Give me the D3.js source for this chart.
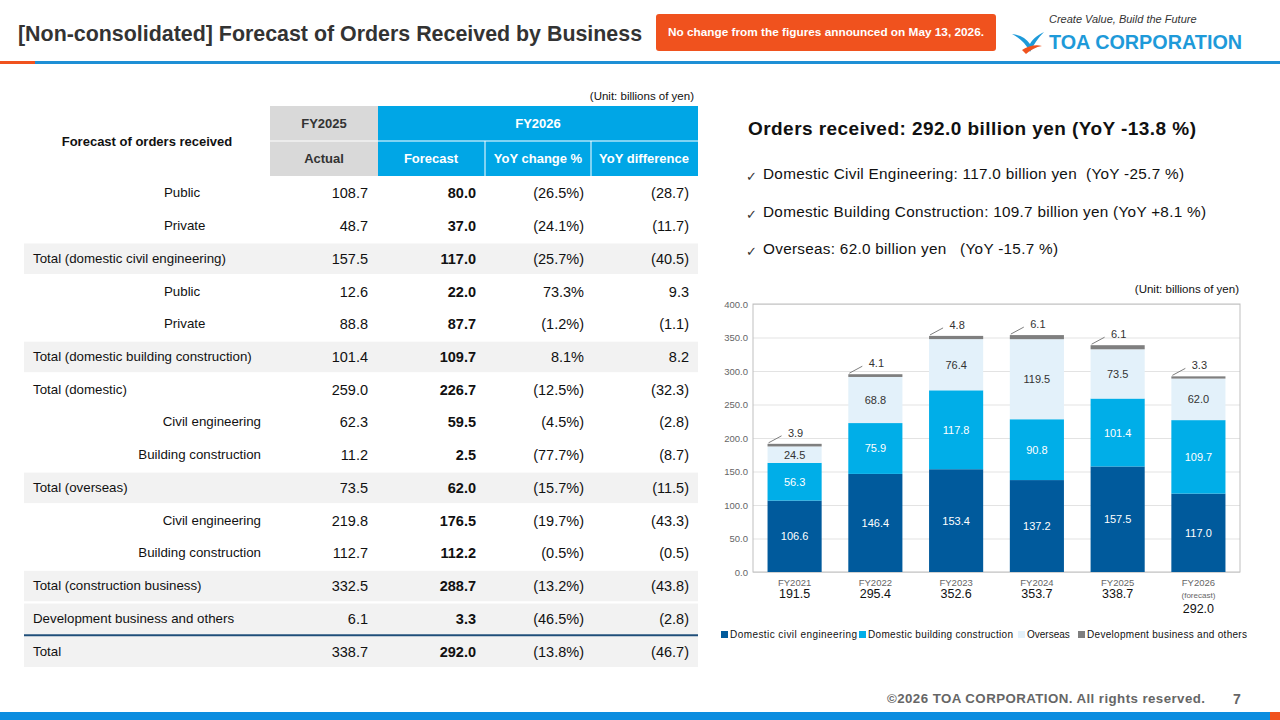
<!DOCTYPE html>
<html><head><meta charset="utf-8">
<script src="https://cdn.jsdelivr.net/npm/d3@7"></script>
<style>body{margin:0;background:#fff;font-family:Arial,"Liberation Sans",sans-serif;}</style>
</head><body><div id="slide"></div>
<script>
// Table rows: label, FY2025 actual, FY2026 forecast, YoY %, YoY diff, style
var rows = [
  {label:"Public", a:"108.7", f:"80.0", p:"(26.5%)", d:"(28.7)", type:"subL"},
  {label:"Private", a:"48.7", f:"37.0", p:"(24.1%)", d:"(11.7)", type:"subL"},
  {label:"Total (domestic civil engineering)", a:"157.5", f:"117.0", p:"(25.7%)", d:"(40.5)", type:"total"},
  {label:"Public", a:"12.6", f:"22.0", p:"73.3%", d:"9.3", type:"subL"},
  {label:"Private", a:"88.8", f:"87.7", p:"(1.2%)", d:"(1.1)", type:"subL"},
  {label:"Total (domestic building construction)", a:"101.4", f:"109.7", p:"8.1%", d:"8.2", type:"total"},
  {label:"Total (domestic)", a:"259.0", f:"226.7", p:"(12.5%)", d:"(32.3)", type:"plain"},
  {label:"Civil engineering", a:"62.3", f:"59.5", p:"(4.5%)", d:"(2.8)", type:"subR"},
  {label:"Building construction", a:"11.2", f:"2.5", p:"(77.7%)", d:"(8.7)", type:"subR"},
  {label:"Total (overseas)", a:"73.5", f:"62.0", p:"(15.7%)", d:"(11.5)", type:"total"},
  {label:"Civil engineering", a:"219.8", f:"176.5", p:"(19.7%)", d:"(43.3)", type:"subR"},
  {label:"Building construction", a:"112.7", f:"112.2", p:"(0.5%)", d:"(0.5)", type:"subR"},
  {label:"Total (construction business)", a:"332.5", f:"288.7", p:"(13.2%)", d:"(43.8)", type:"total"},
  {label:"Development business and others", a:"6.1", f:"3.3", p:"(46.5%)", d:"(2.8)", type:"total"},
  {label:"Total", a:"338.7", f:"292.0", p:"(13.8%)", d:"(46.7)", type:"total"}
];

// Chart data
var chartData = [
  {year:"FY2021", civil:106.6, building:56.3, overseas:24.5, dev:3.9, total:"191.5"},
  {year:"FY2022", civil:146.4, building:75.9, overseas:68.8, dev:4.1, total:"295.4"},
  {year:"FY2023", civil:153.4, building:117.8, overseas:76.4, dev:4.8, total:"352.6"},
  {year:"FY2024", civil:137.2, building:90.8, overseas:119.5, dev:6.1, total:"353.7"},
  {year:"FY2025", civil:157.5, building:101.4, overseas:73.5, dev:6.1, total:"338.7"},
  {year:"FY2026", civil:117.0, building:109.7, overseas:62.0, dev:3.3, total:"292.0"}
];
var keys = ["civil", "building", "overseas", "dev"];
var colors = {civil:"#005a9c", building:"#00aee8", overseas:"#e3f1fa", dev:"#7f7f7f"};
var textColors = {civil:"#fff", building:"#fff", overseas:"#333"};

var svg = d3.select("#slide").append("svg")
    .attr("width", 1280).attr("height", 720);

// Header
svg.append("text").attr("x", 18).attr("y", 41)
    .attr("font-size", "21.4px").attr("font-weight", "bold").attr("fill", "#333")
    .text("[Non-consolidated] Forecast of Orders Received by Business");
svg.append("rect").attr("x", 656).attr("y", 14).attr("width", 340).attr("height", 37)
    .attr("rx", 3).attr("fill", "#f0521e");
svg.append("text").attr("x", 826).attr("y", 36).attr("text-anchor", "middle")
    .attr("font-size", "11.8px").attr("font-weight", "bold").attr("fill", "#fff")
    .text("No change from the figures announced on May 13, 2026.");
svg.append("text").attr("x", 1049).attr("y", 23)
    .attr("font-size", "11px").attr("font-style", "italic").attr("fill", "#333")
    .text("Create Value, Build the Future");
svg.append("text").attr("x", 1049).attr("y", 49)
    .attr("font-size", "19.8px").attr("font-weight", "bold").attr("fill", "#1e9ad9")
    .text("TOA CORPORATION");
// logo mark
svg.append("path").attr("d", "M1012,34 C1020,38 1026,44 1030,52 C1034,44 1038,38 1044,32 C1036,36 1032,40 1030,44 C1026,38 1020,35 1012,34 Z")
    .attr("fill", "#1e9ad9");
svg.append("path").attr("d", "M1022,50 C1028,46 1036,44 1042,46 C1036,47 1030,50 1026,54 Z")
    .attr("fill", "#f0521e");
svg.append("rect").attr("x", 0).attr("y", 61).attr("width", 35).attr("height", 3).attr("fill", "#f0521e");
svg.append("rect").attr("x", 35).attr("y", 61).attr("width", 1245).attr("height", 3).attr("fill", "#1e8fd5");

// Footer
svg.append("rect").attr("x", 0).attr("y", 712).attr("width", 1270).attr("height", 8).attr("fill", "#0b8de0");
svg.append("rect").attr("x", 1270).attr("y", 712).attr("width", 10).attr("height", 8).attr("fill", "#f0521e");
svg.append("text").attr("x", 887).attr("y", 703).attr("textLength", 318)
    .attr("font-size", "13.3px").attr("font-weight", "bold").attr("fill", "#666")
    .text("©2026 TOA CORPORATION. All rights reserved.");
svg.append("text").attr("x", 1237).attr("y", 704).attr("text-anchor", "middle")
    .attr("font-size", "14px").attr("font-weight", "bold").attr("fill", "#666").text("7");

// ---------- Table ----------
var yRow = d3.scaleBand().domain(d3.range(rows.length)).range([177, 668]);
var rh = yRow.bandwidth();

svg.append("text").attr("x", 694).attr("y", 100).attr("text-anchor", "end")
    .attr("font-size", "11.5px").attr("fill", "#111").text("(Unit: billions of yen)");

// header cells
svg.append("rect").attr("x", 270).attr("y", 106).attr("width", 108).attr("height", 70).attr("fill", "#d9d9d9");
svg.append("rect").attr("x", 378).attr("y", 106).attr("width", 320).attr("height", 70).attr("fill", "#00a6e6");
svg.append("line").attr("x1", 270).attr("x2", 698).attr("y1", 141).attr("y2", 141).attr("stroke", "#fff");
[485, 591].forEach(function(x) {
  svg.append("line").attr("x1", x).attr("x2", x).attr("y1", 141).attr("y2", 176).attr("stroke", "#fff");
});
var hdr = [
  {t:"Forecast of orders received", x:147, y:146, c:"#111"},
  {t:"FY2025", x:324, y:128, c:"#333"},
  {t:"FY2026", x:538, y:128, c:"#fff"},
  {t:"Actual", x:324, y:163, c:"#333"},
  {t:"Forecast", x:431, y:163, c:"#fff"},
  {t:"YoY change %", x:538, y:163, c:"#fff"},
  {t:"YoY difference", x:644, y:163, c:"#fff"}
];
svg.selectAll(".hdr").data(hdr).enter().append("text")
    .attr("x", d => d.x).attr("y", d => d.y).attr("text-anchor", "middle")
    .attr("font-size", "13px").attr("font-weight", "bold").attr("fill", d => d.c)
    .text(d => d.t);

var rowG = svg.selectAll(".row").data(rows).enter().append("g")
    .attr("transform", (d, i) => "translate(0," + yRow(i) + ")");
rowG.filter(d => d.type == "total").append("rect")
    .attr("x", 24).attr("width", 674).attr("y", 1).attr("height", rh - 2).attr("fill", "#f2f2f2");
rowG.append("line").attr("x1", 24).attr("x2", 698).attr("y1", rh).attr("y2", rh)
    .attr("stroke", "#fff").attr("stroke-width", 2);
rowG.append("text")
    .attr("x", d => d.type == "subL" ? 164 : d.type == "subR" ? 261 : 33)
    .attr("text-anchor", d => d.type == "subR" ? "end" : "start")
    .attr("y", rh / 2 + 4).attr("font-size", "13.3px").attr("fill", "#111")
    .text(d => d.label);
var numCols = [{k:"a", x:368, b:false}, {k:"f", x:476, b:true}, {k:"p", x:584, b:false}, {k:"d", x:689, b:false}];
numCols.forEach(function(c) {
  rowG.append("text").attr("x", c.x).attr("y", rh / 2 + 5).attr("text-anchor", "end")
      .attr("font-size", "14.5px").attr("font-weight", c.b ? "bold" : "normal").attr("fill", "#111")
      .text(d => d[c.k]);
});
// rule above grand total
svg.append("line").attr("x1", 24).attr("x2", 698)
    .attr("y1", yRow(14)).attr("y2", yRow(14)).attr("stroke", "#1f4e79").attr("stroke-width", 2);

// ---------- Right summary ----------
svg.append("text").attr("x", 748).attr("y", 135).attr("textLength", 448)
    .attr("font-size", "19px").attr("font-weight", "bold").attr("fill", "#111")
    .text("Orders received: 292.0 billion yen (YoY -13.8 %)");
var bullets = [
  {t:"Domestic Civil Engineering: 117.0 billion yen  (YoY -25.7 %)", w:421},
  {t:"Domestic Building Construction: 109.7 billion yen (YoY +8.1 %)", w:443},
  {t:"Overseas: 62.0 billion yen   (YoY -15.7 %)", w:295}
];
svg.selectAll(".bul").data(bullets).enter().append("text")
    .attr("x", 763).attr("y", (d, i) => 179 + i * 37.5).attr("textLength", d => d.w)
    .attr("font-size", "15.3px").attr("fill", "#111").attr("xml:space", "preserve").text(d => d.t);
svg.selectAll(".chk").data(bullets).enter().append("text")
    .attr("x", 746).attr("y", (d, i) => 181 + i * 37.5)
    .attr("font-size", "13px").attr("fill", "#333").text("✓");

// ---------- Chart ----------
var x = d3.scaleBand().domain(chartData.map(d => d.year)).range([753, 1240]).paddingInner(0.33).paddingOuter(0.18);
var y = d3.scaleLinear().domain([0, 400]).range([572, 304]);

svg.append("text").attr("x", 1239).attr("y", 293).attr("text-anchor", "end")
    .attr("font-size", "11.5px").attr("fill", "#111").text("(Unit: billions of yen)");

var grid = svg.append("g").attr("transform", "translate(753,0)")
    .call(d3.axisLeft(y).tickValues(d3.range(0, 401, 50)).tickSize(-487).tickFormat(d3.format(".1f")));
grid.select(".domain").remove();
grid.selectAll("line").attr("stroke", "#e3e3e3");
grid.selectAll("text").attr("font-size", "9.5px").attr("fill", "#666").attr("x", -5)
    .attr("font-family", "Arial,sans-serif");
svg.append("rect").attr("x", 753).attr("y", y(400)).attr("width", 487).attr("height", y(0) - y(400))
    .attr("fill", "none").attr("stroke", "#bfbfbf");

var stacked = d3.stack().keys(keys)(chartData);
var layers = svg.selectAll(".layer").data(stacked).enter().append("g")
    .attr("fill", d => colors[d.key]);
layers.selectAll("rect").data(d => d).enter().append("rect")
    .attr("x", d => x(d.data.year)).attr("width", x.bandwidth())
    .attr("y", d => y(d[1])).attr("height", d => y(d[0]) - y(d[1]));

// segment labels
stacked.filter(s => s.key != "dev").forEach(function(s) {
  svg.selectAll(".lbl-" + s.key).data(s).enter().append("text")
      .attr("x", d => x(d.data.year) + x.bandwidth() / 2)
      .attr("y", d => (y(d[0]) + y(d[1])) / 2 + 4)
      .attr("text-anchor", "middle").attr("font-size", "11px")
      .attr("fill", textColors[s.key]).text(d => (d[1] - d[0]).toFixed(1));
});
// dev labels with leader
var devS = stacked[3];
svg.selectAll(".devline").data(devS).enter().append("line")
    .attr("x1", d => x(d.data.year) + 1).attr("y1", d => y(d[1]) - 1)
    .attr("x2", d => x(d.data.year) + 14).attr("y2", d => y(d[1]) - 8)
    .attr("stroke", "#7f7f7f");
svg.selectAll(".devlbl").data(devS).enter().append("text")
    .attr("x", d => x(d.data.year) + x.bandwidth() / 2 + 1)
    .attr("y", d => y(d[1]) - 7).attr("text-anchor", "middle")
    .attr("font-size", "11px").attr("fill", "#333").text(d => d.data.dev.toFixed(1));

// category labels + totals
var cat = svg.selectAll(".cat").data(chartData).enter().append("g")
    .attr("transform", d => "translate(" + (x(d.year) + x.bandwidth() / 2) + ",0)");
cat.append("text").attr("y", 586).attr("text-anchor", "middle")
    .attr("font-size", "9.5px").attr("fill", "#666").text(d => d.year);
cat.filter(d => d.year == "FY2026").append("text").attr("y", 598).attr("text-anchor", "middle")
    .attr("font-size", "8px").attr("fill", "#666").text("(forecast)");
cat.append("text").attr("y", d => d.year == "FY2026" ? 613 : 598).attr("text-anchor", "middle")
    .attr("font-size", "12.5px").attr("fill", "#111").text(d => d.total);

// legend
var legend = [
  {k:"civil", t:"Domestic civil engineering", x:721},
  {k:"building", t:"Domestic building construction", x:859},
  {k:"overseas", t:"Overseas", x:1018},
  {k:"dev", t:"Development business and others", x:1078}
];
var lg = svg.selectAll(".lg").data(legend).enter().append("g")
    .attr("transform", d => "translate(" + d.x + ",630)");
lg.append("rect").attr("width", 7).attr("height", 7).attr("y", 1).attr("fill", d => colors[d.k]);
lg.append("text").attr("x", 9).attr("y", 8).attr("font-size", "10px").attr("fill", "#111")
    .attr("textLength", d => d.k == "dev" ? 160 : d.k == "building" ? 145 : d.k == "civil" ? 127 : null)
    .text(d => d.t);
</script>
</body></html>
